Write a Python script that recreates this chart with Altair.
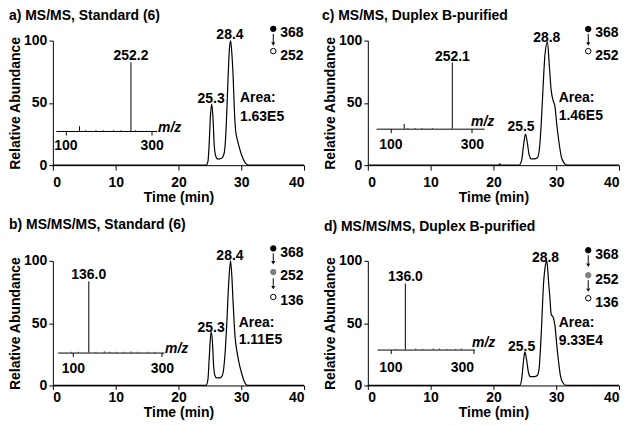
import altair as alt
import pandas as pd

FONT = "Liberation Sans"

# ---------------- data ----------------
# chromatogram traces (time in min, relative abundance)
a_time = [0, 24.4, 24.7, 24.9, 25.1, 25.3, 25.5, 25.7, 25.9, 26.2, 26.6, 27.0, 27.3, 27.6, 27.9, 28.1, 28.3, 28.5, 28.7, 28.9, 29.1, 29.4, 29.7, 30.0, 30.4, 30.8, 31.2, 40]
a_abund = [0, 0, 3, 18, 40, 49, 38, 16, 8, 5, 5, 6, 10, 30, 70, 92, 100, 90, 72, 45, 28, 20, 14, 9, 4, 1, 0, 0]

c_time = [0, 20.8, 21.0, 21.2, 24.1, 24.5, 24.8, 25.1, 25.4, 25.7, 26.0, 26.5, 27.0, 27.3, 27.6, 27.9, 28.2, 28.6, 28.9, 29.2, 29.5, 29.8, 30.1, 30.4, 30.8, 31.2, 31.7, 40]
c_abund = [0, 0, 1, 0, 0, 4, 16, 25, 18, 8, 5, 5, 6, 12, 32, 62, 88, 99, 80, 60, 52, 47, 32, 20, 7, 2, 0, 0]

b_time = [0, 24.4, 24.7, 24.9, 25.2, 25.4, 25.6, 25.8, 26.1, 26.6, 27.0, 27.4, 27.7, 28.0, 28.3, 28.5, 28.7, 29.0, 29.4, 29.7, 30.0, 30.5, 31.0, 40]
b_abund = [0, 0, 5, 22, 43, 36, 16, 8, 6, 6, 8, 24, 50, 82, 100, 88, 67, 40, 25, 17, 11, 3, 0, 0]

d_time = [0, 24.2, 24.5, 24.8, 25.0, 25.3, 25.6, 25.9, 26.5, 27.0, 27.3, 27.6, 28.0, 28.3, 28.5, 28.8, 29.0, 29.2, 29.5, 29.8, 30.1, 30.4, 30.7, 31.1, 31.6, 40]
d_abund = [0, 0, 5, 20, 27, 20, 10, 7, 7, 8, 15, 40, 83, 97, 100, 82, 70, 57, 55, 48, 32, 18, 7, 2, 0, 0]

# inset mass spectra (m/z, relative intensity)
a_mz = [252.2, 133, 147, 171, 188, 212, 229, 263]
a_int = [100, 7, 1, 1, 1, 1, 1, 1]
c_mz = [252.1, 134, 143, 161, 178, 203]
c_int = [100, 7, 1, 1, 1, 1]
b_mz = [136.0, 97, 112, 152, 171, 183, 199, 214, 231, 246, 268, 284]
b_int = [100, 1, 1, 1, 1.5, 1, 1, 1, 1.5, 1, 1, 1]
d_mz = [136.0, 112, 161, 177, 203, 218, 236, 257, 271]
d_int = [100, 1, 1.5, 1, 1.5, 1.5, 1, 1, 1.5]

# peak labels of the insets
a_spec_label = ["252.2"]
c_spec_label = ["252.1"]
b_spec_label = ["136.0"]
d_spec_label = ["136.0"]

# chromatogram annotations
a_ann_text = ["28.4", "25.3", "Area:", "1.63E5"]
a_ann_t = [28.2, 25.2, 29.8, 29.8]
a_ann_a = [101, 50, 50.5, 35.5]
c_ann_text = ["28.8", "25.5", "Area:", "1.46E5"]
c_ann_t = [28.5, 24.4, 30.4, 30.4]
c_ann_a = [98.5, 27.5, 50.5, 36]
b_ann_text = ["28.4", "25.3", "Area:", "1.11E5"]
b_ann_t = [28.2, 25.2, 29.6, 29.6]
b_ann_a = [100.5, 43, 47, 33]
d_ann_text = ["28.8", "25.5", "Area:", "9.33E4"]
d_ann_t = [28.3, 24.5, 30.4, 30.4]
d_ann_a = [99, 27.7, 47, 32.5]
ann_align = ["center", "center", "left", "left"]

# fragmentation scheme (precursor -> product ions)
ms2_ions = ["368", "252"]
ms3_ions = ["368", "252", "136"]
ms2_fill = ["black", "white"]
ms3_fill = ["black", "#808080", "white"]
ms2_stroke = ["black", "black"]
ms3_stroke = ["black", "#808080", "black"]

TITLES = {
    "a": "a) MS/MS, Standard (6)",
    "c": "c) MS/MS, Duplex B-purified",
    "b": "b) MS/MS/MS, Standard (6)",
    "d": "d) MS/MS/MS, Duplex B-purified",
}

W, H = 252, 125


def panel(key, time, abund, ann_text, ann_t, ann_a, mz, inten, spec_label,
          ions, ion_fill, ion_stroke, ion_a, arrows, inset, xaxis, title_cfg):
    x_sc = alt.Scale(domain=[0, 40], nice=False, padding=0, zero=False)
    y_sc = alt.Scale(domain=[0, 100], nice=False, padding=0)

    trace = alt.Chart(pd.DataFrame({"t": time, "a": abund})).mark_line(
        color="black", strokeWidth=1.2, interpolate="monotone"
    ).encode(
        x=alt.X("t:Q", scale=x_sc, axis=alt.Axis(
            values=[0, 10, 20, 30, 40], tickSize=xaxis["tick"], labelPadding=xaxis["lp"],
            title="Time (min)", titlePadding=xaxis["tp"])),
        y=alt.Y("a:Q", scale=y_sc, axis=alt.Axis(
            values=[0, 50, 100], tickSize=4, labelPadding=2,
            title="Relative Abundance", titlePadding=1)),
    )

    df_ann = pd.DataFrame({"txt": ann_text, "t": ann_t, "a": ann_a, "al": ann_align})
    ann_c = alt.Chart(df_ann[df_ann.al == "center"]).mark_text(
        font=FONT, fontSize=14, fontWeight="bold", baseline="alphabetic", align="center", color="black"
    ).encode(x="t:Q", y="a:Q", text="txt:N")
    ann_l = alt.Chart(df_ann[df_ann.al == "left"]).mark_text(
        font=FONT, fontSize=14, fontWeight="bold", baseline="alphabetic", align="left", color="black"
    ).encode(x="t:Q", y="a:Q", text="txt:N")

    ion_df = pd.DataFrame({"ion": ions, "a": ion_a, "fill": ion_fill, "stroke": ion_stroke})
    ion_df["t"] = 35.1
    ion_df["tl"] = 36.2
    ion_df["al"] = ion_df["a"] - 3.5
    dots = alt.Chart(ion_df).mark_point(shape="circle", filled=True, size=30, strokeWidth=1, opacity=1).encode(
        x="t:Q", y="a:Q", fill=alt.Fill("fill:N", scale=None), stroke=alt.Stroke("stroke:N", scale=None))
    ion_txt = alt.Chart(ion_df).mark_text(
        font=FONT, fontSize=14, fontWeight="bold", baseline="middle", align="left", color="black"
    ).encode(x="tl:Q", y="al:Q", text="ion:N")

    arr_df = pd.DataFrame({"top": [a[0] for a in arrows], "bot": [a[1] for a in arrows],
                           "head": [a[2] for a in arrows]})
    arr_df["t"] = 35.1
    shafts = alt.Chart(arr_df).mark_rule(color="black", strokeWidth=1).encode(x="t:Q", y="top:Q", y2="bot:Q")
    heads = alt.Chart(arr_df).mark_point(shape="triangle-down", filled=True, size=16, color="black",
                                         opacity=1).encode(x="t:Q", y="head:Q")

    main = alt.layer(trace, ann_c, ann_l, dots, ion_txt, shafts, heads)

    mz_sc = alt.Scale(domain=inset["domain"], range=inset["range"], nice=False, zero=False, padding=0)
    int_sc = alt.Scale(domain=[0, 100], range=[inset["base"], inset["top"]], nice=False, padding=0)
    spec_df = pd.DataFrame({"mz": mz, "i": inten})
    spec = alt.Chart(spec_df).mark_rule(color="black", strokeWidth=1).encode(
        x=alt.X("mz:Q", scale=mz_sc, axis=alt.Axis(
            orient="bottom", offset=inset["base"] - H, values=[100, 300], tickSize=4,
            labelPadding=inset["lp"], title="m/z", titleFontStyle="italic", titleAngle=0,
            titleAlign="left", titleBaseline="alphabetic", titleX=inset["tx"], titleY=inset["ty"],
            titlePadding=0)),
        y=alt.Y("i:Q", scale=int_sc, axis=None),
        y2=alt.datum(0),
    )
    lab_df = pd.DataFrame({"mz": [mz[0]], "i": [inten[0]], "txt": spec_label})
    spec_lab = alt.Chart(lab_df).mark_text(
        font=FONT, fontSize=14, fontWeight="bold", baseline="alphabetic", align="center", dy=-2, color="black"
    ).encode(x=alt.X("mz:Q", scale=mz_sc), y=alt.Y("i:Q", scale=int_sc), text="txt:N")
    ins = alt.layer(spec, spec_lab)

    return alt.layer(main, ins).resolve_scale(x="independent", y="independent").properties(
        width=W, height=H,
        title=alt.TitleParams(TITLES[key], anchor="start", frame="group", font=FONT, fontSize=14,
                              fontWeight="bold", color="black", offset=title_cfg["offset"],
                              dx=title_cfg["dx"]),
    )


top_axis = {"tick": 5, "lp": 5, "tp": 1}
bot_axis = {"tick": 4, "lp": 1, "tp": 1}

pa = panel("a", a_time, a_abund, a_ann_text, a_ann_t, a_ann_a, a_mz, a_int, a_spec_label,
           ms2_ions, ms2_fill, ms2_stroke, [109.4, 91.5], [(105.3, 98.6, 97.2)],
           {"domain": [78, 312], "range": [3.0, 104.2], "base": 90.7, "top": 21.7, "lp": 4, "tx": 105, "ty": 1},
           top_axis, {"offset": 1, "dx": -44})
pc = panel("c", c_time, c_abund, c_ann_text, c_ann_t, c_ann_a, c_mz, c_int, c_spec_label,
           ms2_ions, ms2_fill, ms2_stroke, [109.2, 91.5], [(105.3, 98.6, 97.2)],
           {"domain": [65, 330], "range": [8.3, 116.6], "base": 88.4, "top": 22, "lp": 5, "tx": 103, "ty": -3},
           top_axis, {"offset": 1, "dx": -46})
pb = panel("b", b_time, b_abund, b_ann_text, b_ann_t, b_ann_a, b_mz, b_int, b_spec_label,
           ms3_ions, ms3_fill, ms3_stroke, [110, 91, 71], [(106, 100, 98.5), (86, 80, 78.5)],
           {"domain": [66, 305], "range": [4.8, 111.5], "base": 92, "top": 20.6, "lp": 5, "tx": 112, "ty": 0},
           bot_axis, {"offset": 12, "dx": -44})
pd_ = panel("d", d_time, d_abund, d_ann_text, d_ann_t, d_ann_a, d_mz, d_int, d_spec_label,
            ms3_ions, ms3_fill, ms3_stroke, [108.5, 88.5, 70], [(104.5, 98, 96.5), (84.5, 78, 76.5)],
            {"domain": [68, 302], "range": [9.3, 106.8], "base": 89, "top": 22.7, "lp": 7, "tx": 104, "ty": -3},
            bot_axis, {"offset": 12, "dx": -44})

chart = alt.concat(pa, pc, pb, pd_, columns=2, spacing={"row": 96, "column": 64}, bounds="flush").configure_view(
    stroke=None
).configure_axis(
    labelFont=FONT, labelFontSize=14, labelFontWeight="bold", labelColor="black",
    titleFont=FONT, titleFontSize=14, titleFontWeight="bold", titleColor="black",
    domainColor="black", tickColor="black", grid=False, domainWidth=1, tickWidth=1,
).properties(background="white", padding=0)

chart.save("out.html", embed_options={"renderer": "svg", "actions": False})
